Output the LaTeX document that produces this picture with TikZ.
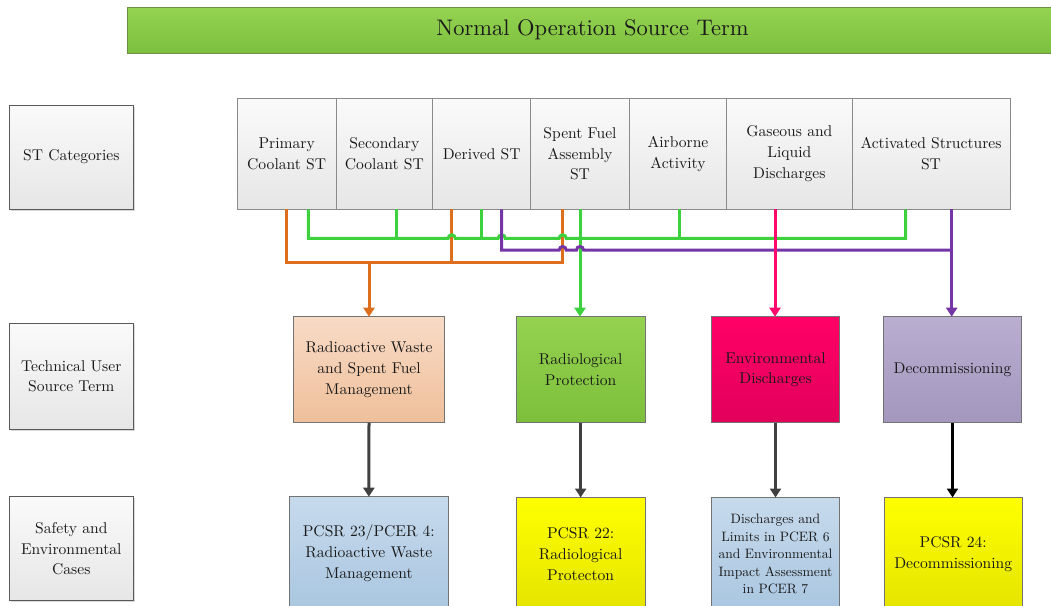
\documentclass[tikz,border=0pt]{standalone}
\usepackage{fontspec}
\newfontfamily\boxfont{lmroman10-regular}[Extension=.otf]
\usetikzlibrary{arrows.meta,calc,shadows}

\definecolor{titletop}{HTML}{95D352}
\definecolor{titlebot}{HTML}{7CBF3E}
\definecolor{titleedge}{HTML}{6A8F45}
\definecolor{boxedge}{HTML}{8A8A8A}
\definecolor{greytop}{HTML}{FAFAFA}
\definecolor{greybot}{HTML}{E6E6E6}
\definecolor{lineorange}{HTML}{DD6E1E}
\definecolor{linegreen}{HTML}{3DD13D}
\definecolor{linepurple}{HTML}{7435A6}
\definecolor{linepink}{HTML}{FF0A6C}
\definecolor{peachtop}{HTML}{F8DBC6}
\definecolor{peachbot}{HTML}{EFBF9A}
\definecolor{greentop}{HTML}{94D250}
\definecolor{greenbot}{HTML}{7DBF3B}
\definecolor{pinktop}{HTML}{FF0066}
\definecolor{pinkbot}{HTML}{E2005B}
\definecolor{lilactop}{HTML}{B9ADD0}
\definecolor{lilacbot}{HTML}{A497BE}
\definecolor{bluetop}{HTML}{C7DAEC}
\definecolor{bluebot}{HTML}{A9C6E0}
\definecolor{yellowtop}{HTML}{FFFF00}
\definecolor{yellowbot}{HTML}{E4E400}
\definecolor{darkarrow}{HTML}{404040}
\definecolor{textgrey}{HTML}{1A1A1A}

\tikzset{
  base/.style={inner sep=0pt, outer sep=0pt, anchor=north west, align=center,
    font=\boxfont\fontsize{15.6}{20.8}\selectfont, text=textgrey},
  catbox/.style={base, draw=boxedge, line width=0.9pt,
    top color=greytop, bottom color=greybot, minimum height=111pt},
  rowlabel/.style={base, draw=black!65, line width=0.9pt,
    top color=greytop, bottom color=greybot, minimum width=124pt,
    drop shadow={shadow xshift=1.5pt, shadow yshift=-1.5pt, opacity=0.3}},
  userbox/.style={base, draw=black!55, line width=0.9pt, minimum height=106pt},
  casebox/.style={base, draw=black!55, line width=0.9pt, minimum height=113pt},
  link/.style={line width=3pt},
  tip/.style={-{Triangle[width=11pt,length=9pt]}},
  down/.style={line width=3pt, darkarrow, -{Triangle[width=11pt,length=9pt]}}
}

\begin{document}
\begin{tikzpicture}[x=1pt,y=1pt]
\useasboundingbox (0,0) rectangle (1051,-605);
\clip (0,0) rectangle (1051,-605);

% heading bar
\node[base, minimum width=931pt, minimum height=46pt, draw=titleedge, line width=1pt,
  top color=titletop, bottom color=titlebot, font=\boxfont\fontsize{22.5}{26}\selectfont]
  (title) at (127,-7) {Normal Operation Source Term};

% row labels on the left
\node[rowlabel, minimum height=104pt] (lab1) at (9.3,-105) {ST Categories};
\node[rowlabel, minimum height=106pt] (lab2) at (9.3,-323.3) {Technical User\\Source Term};
\node[rowlabel, minimum height=104pt] (lab3) at (9.3,-496.7) {Safety and\\Environmental\\Cases};

% source term categories
\node[catbox, minimum width=98.7pt]  (pc)  at (237.3,-98.3) {Primary\\Coolant ST};
\node[catbox, minimum width=96.7pt]  (sc)  at (336,-98.3)   {Secondary\\Coolant ST};
\node[catbox, minimum width=98pt]    (der) at (432.7,-98.3) {Derived ST};
\node[catbox, minimum width=98.6pt]  (sfa) at (530.7,-98.3) {Spent Fuel\\Assembly\\ST};
\node[catbox, minimum width=97.4pt]  (air) at (629.3,-98.3) {Airborne\\Activity};
\node[catbox, minimum width=125.3pt] (gld) at (726.7,-98.3) {Gaseous and\\Liquid\\Discharges};
\node[catbox, minimum width=158pt]   (act) at (852,-98.3)   {Activated Structures\\ST};

% technical user source terms
\node[userbox, minimum width=151.4pt, top color=peachtop, bottom color=peachbot]
  (rw) at (293.3,-316.7) {Radioactive Waste\\and Spent Fuel\\Management};
\node[userbox, minimum width=128.7pt, top color=greentop, bottom color=greenbot]
  (rp) at (516.3,-316.7) {Radiological\\Protection};
\node[userbox, minimum width=127.6pt, top color=pinktop, bottom color=pinkbot]
  (env) at (711.7,-316.7) {Environmental\\Discharges};
\node[userbox, minimum width=138.4pt, top color=lilactop, bottom color=lilacbot]
  (dc) at (883.3,-316.7) {Decommissioning};

% safety and environmental cases
\node[casebox, minimum width=159.7pt, top color=bluetop, bottom color=bluebot]
  (c1) at (289,-496.7) {PCSR 23/PCER 4:\\Radioactive Waste\\Management};
\node[casebox, minimum width=128.7pt, top color=yellowtop, bottom color=yellowbot]
  (c2) at (516.3,-497.5) {PCSR 22:\\Radiological\\Protecton};
\node[casebox, minimum width=127.6pt, top color=bluetop, bottom color=bluebot,
  font=\boxfont\fontsize{13.6}{17.5}\selectfont]
  (c3) at (711.7,-497.5) {Discharges and\\Limits in PCER 6\\and Environmental\\Impact Assessment\\in PCER 7};
\node[casebox, minimum width=138.4pt, top color=yellowtop, bottom color=yellowbot]
  (c4) at (884,-497.5) {PCSR 24:\\Decommissioning};

% tap points under the category boxes
\path (pc.south west)  ++(49.4,0)  coordinate (oA);
\path (pc.south west)  ++(71,0)    coordinate (gA);
\path (sc.south west)  ++(60,0)    coordinate (gB);
\path (der.south west) ++(19,0)    coordinate (oB);
\path (der.south west) ++(49,0)    coordinate (gC);
\path (der.south west) ++(69,0)    coordinate (pA);
\path (sfa.south west) ++(32,0)    coordinate (oC);
\path (sfa.south west) ++(49.3,0)  coordinate (gS);
\path (air.south west) ++(50,0)    coordinate (gD);
\path (gld.south west) ++(48.3,0)  coordinate (pk);
\path (act.south west) ++(53.7,0)  coordinate (gE);
\path (act.south west) ++(99.7,0)  coordinate (pB);

% bus levels
\path (oA) ++(0,-53.4) coordinate (obus);
\path (gA) ++(0,-29)   coordinate (gbus);
\path (pA) ++(0,-40.7) coordinate (pbus);

% orange: waste and spent fuel
\draw[link, lineorange] (oA) -- (oA |- obus) -| (oC);
\draw[link, lineorange] (oB) -- (oB |- obus);
\draw[link, lineorange, tip] (rw.north |- obus) -- (rw.north);

% green: radiological protection
\draw[link, linegreen] (gA) -- (gA |- gbus)
  -- ($(oB |- gbus)+(-3.5,0)$) arc[start angle=180, end angle=0, radius=3.5]
  -- ($(pA |- gbus)+(-3.5,0)$) arc[start angle=180, end angle=0, radius=3.5]
  -- ($(oC |- gbus)+(-3.5,0)$) arc[start angle=180, end angle=0, radius=3.5]
  -| (gE);
\draw[link, linegreen] (gB) -- (gB |- gbus);
\draw[link, linegreen] (gC) -- (gC |- gbus);
\draw[link, linegreen] (gD) -- (gD |- gbus);
\draw[link, linegreen, tip] (gS) -- (gS |- rp.north);

% purple: decommissioning
\draw[link, linepurple] (pA) -- (pA |- pbus)
  -- ($(oC |- pbus)+(-3.5,0)$) arc[start angle=180, end angle=0, radius=3.5]
  -- ($(gS |- pbus)+(-3.5,0)$) arc[start angle=180, end angle=0, radius=3.5]
  -- (pB |- pbus);
\draw[link, linepurple, tip] (pB) -- (pB |- dc.north);

% pink: environmental discharges
\draw[link, linepink, tip] (pk) -- (pk |- env.north);

% user source terms to the cases
\draw[down] (rw.south) -- (c1.north);
\draw[down] (rp.south) -- (c2.north);
\draw[down] (env.south) -- (c3.north);
\draw[down, black] (dc.south) -- (dc.south |- c4.north);
\end{tikzpicture}
\end{document}
